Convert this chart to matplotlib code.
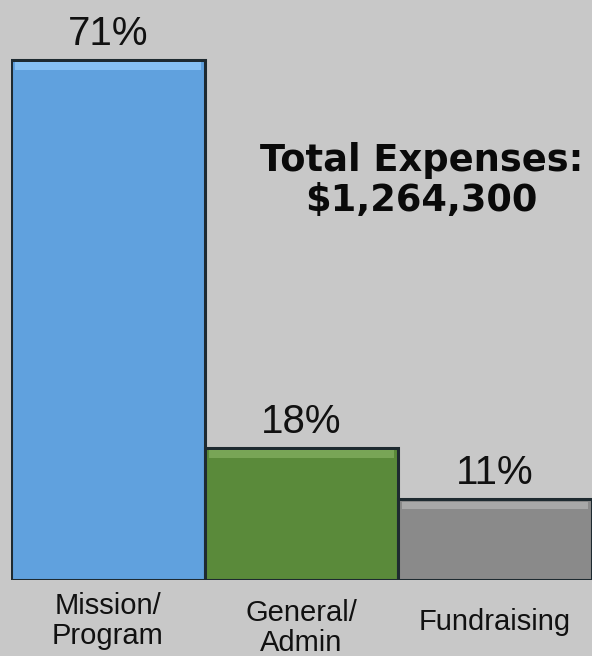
import numpy as np
import matplotlib.pyplot as plt

categories = ['Mission/\nProgram', 'General/\nAdmin', 'Fundraising']
shares = [71, 18, 11]
value_labels = ['71%', '18%', '11%']
title_text = 'Total Expenses:\n$1,264,300'

bar_colors = ['#60a1de', '#5a8a3a', '#8a8a8a']
top_colors = ['#86c0f2', '#78a556', '#a8a8a8']
bg = '#c8c8c8'

plt.rcParams['font.family'] = ['Liberation Sans', 'DejaVu Sans']

fig = plt.figure(figsize=(5.92, 6.56), dpi=100)
fig.patch.set_facecolor(bg)
ax = fig.add_axes([11 / 592, 1 - 580 / 656, 1 - 11 / 592, 580 / 656])
ax.set_facecolor(bg)

x = np.arange(len(shares))
ax.bar(x, shares, width=1.0, color=bar_colors, edgecolor='#1e2a30', linewidth=2.2, zorder=2)
# bevel highlight near the top of each bar
hl = [s - 1.3 for s in shares]
ax.bar(x, [1.0] * len(shares), bottom=hl, width=0.96, color=top_colors, linewidth=0, zorder=3)

ax.set_xlim(-0.5, 2.5)
ax.set_ylim(0, 79.2)
ax.axis('off')

for xi, s, lab in zip(x, shares, value_labels):
    ax.text(xi, s + 3.6, lab, ha='center', va='center', fontsize=29, color='#111111')

# General/Admin sits a little lower in the original
label_y = [-5.6, -6.6, -5.8]
for xi, cat, ly in zip(x, categories, label_y):
    ax.text(xi, ly, cat, ha='center', va='center', fontsize=21, color='#111111',
            linespacing=1.1, clip_on=False)

ax.text(1.62, 54.6, title_text, ha='center', va='center', fontsize=26.5,
        fontweight='bold', family=['DejaVu Sans'], color='#0a0a0a', linespacing=1.1)

fig.savefig('out.png', dpi=100, facecolor=bg)
